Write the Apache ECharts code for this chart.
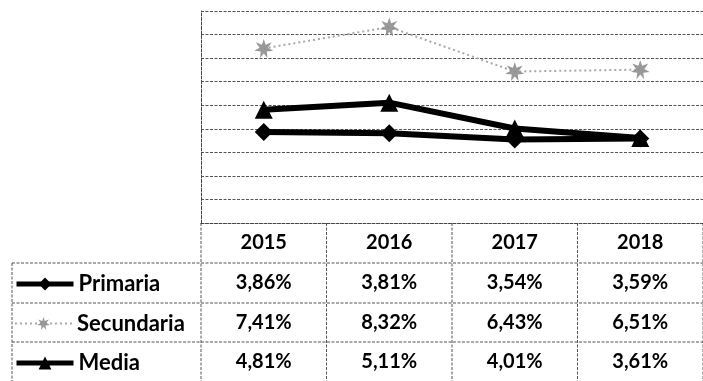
<!DOCTYPE html>
<html>
<head>
<meta charset="utf-8">
<script src="https://cdn.jsdelivr.net/npm/echarts@6/dist/echarts.min.js"></script>
<style>
  html, body { margin: 0; padding: 0; background: #fff; }
  #chart { width: 703px; height: 381px; }
</style>
</head>
<body>
<div id="chart"></div>
<script>
// Categories and rates (percent) per school level
const years = ['2015', '2016', '2017', '2018'];
const primaria = [3.86, 3.81, 3.54, 3.59];
const secundaria = [7.41, 8.32, 6.43, 6.51];
const media = [4.81, 5.11, 4.01, 3.61];
const seriesNames = ['Primaria', 'Secundaria', 'Media'];

const FONT = 'Lato, "Open Sans", sans-serif';
const GRID_LEFT = 201, GRID_TOP = 11, GRID_W = 513, GRID_H = 212;
const ROW_Y = [243, 283, 322.5, 362];      // text centre of each table row
const ROW_LINES = [263, 303, 342];          // horizontal table rules
const TABLE_LEFT = 12, TABLE_BOTTOM = 381;
const RULE = { stroke: '#555', lineWidth: 1, lineDash: [3, 1.5] };
const LEGEND_LINE_W = [5, 2, 5];

const starPath = 'path://M50,0 L60,30 L92,18 L72,46 L100,62 L66,66 L70,100 L50,76 L30,100 L34,66 L0,62 L28,46 L8,18 L40,30 Z';

const chart = echarts.init(document.getElementById('chart'));

const fmt = v => v.toFixed(2).replace('.', ',') + '%';

// one legend per table row, each acting as the row header
const legends = seriesNames.map((name, r) => ({
  data: [{ name: name, lineStyle: { width: LEGEND_LINE_W[r] } }],
  orient: 'horizontal',
  left: 14,
  top: ROW_Y[r + 1] - 10,
  padding: 0,
  itemWidth: 57,
  itemHeight: 16,
  selectedMode: false,
  textStyle: { fontFamily: FONT, fontSize: 22, fontWeight: 'bold', color: '#000' }
}));

chart.setOption({
  animation: false,
  backgroundColor: '#fff',
  grid: { left: GRID_LEFT, top: GRID_TOP, width: GRID_W, height: GRID_H },
  xAxis: {
    type: 'category',
    data: years,
    boundaryGap: true,
    axisLine: { show: true, lineStyle: { color: '#444', width: 1, type: [3, 1.5] } },
    axisTick: { show: false },
    axisLabel: { show: false }
  },
  yAxis: {
    type: 'value',
    min: 0, max: 9, interval: 1,
    axisLine: { show: true, lineStyle: { color: '#444', width: 1, type: [3, 1.5] } },
    axisTick: { show: false },
    axisLabel: { show: false },
    splitLine: { lineStyle: { color: '#555', width: 1, type: [3, 1.5] } }
  },
  legend: legends,
  series: [
    {
      name: 'Primaria', type: 'line', data: primaria,
      symbol: 'diamond', symbolSize: 18,
      lineStyle: { color: '#000', width: 6 },
      itemStyle: { color: '#000' },
      z: 4
    },
    {
      name: 'Secundaria', type: 'line', data: secundaria,
      symbol: starPath, symbolSize: 19,
      lineStyle: { color: '#a8a8a8', width: 2, type: [2, 3] },
      itemStyle: { color: '#8e8e8e', opacity: 0.9 },
      z: 3
    },
    {
      name: 'Media', type: 'line', data: media,
      symbol: 'triangle', symbolSize: 18,
      lineStyle: { color: '#000', width: 6 },
      itemStyle: { color: '#000' },
      z: 4
    }
  ]
});

// Data table under the plot, aligned to the category axis
const centers = years.map((y, i) => chart.convertToPixel({ xAxisIndex: 0 }, i));
const step = centers.length > 1 ? centers[1] - centers[0] : GRID_W;
const bounds = [GRID_LEFT].concat(centers.map(c => c + step / 2));

const elements = [];
const axisY = GRID_TOP + GRID_H;

ROW_LINES.forEach(y => {
  elements.push({ type: 'line', shape: { x1: TABLE_LEFT, y1: y, x2: 703, y2: y }, style: RULE, silent: true });
});
elements.push({ type: 'line', shape: { x1: TABLE_LEFT, y1: ROW_LINES[0], x2: TABLE_LEFT, y2: TABLE_BOTTOM }, style: RULE, silent: true });
bounds.forEach(x => {
  elements.push({ type: 'line', shape: { x1: x, y1: axisY, x2: x, y2: TABLE_BOTTOM }, style: RULE, silent: true });
});

const cellText = (txt, x, y) => ({
  type: 'text', x: x, y: y, silent: true,
  style: { text: txt, fontFamily: FONT, fontSize: 20, fontWeight: 'bold', fill: '#000', align: 'center', verticalAlign: 'middle' }
});

years.forEach((yr, i) => elements.push(cellText(yr, centers[i], ROW_Y[0])));
[primaria, secundaria, media].forEach((arr, r) => {
  arr.forEach((v, i) => elements.push(cellText(fmt(v), centers[i], ROW_Y[r + 1])));
});

chart.setOption({ graphic: { elements: elements } });
</script>
</body>
</html>
